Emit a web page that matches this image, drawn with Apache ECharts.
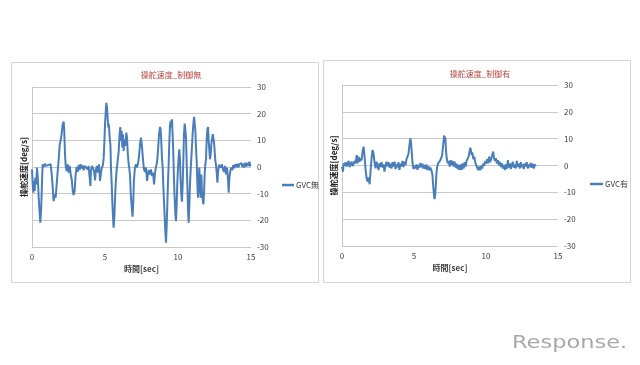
<!DOCTYPE html>
<html>
<head>
<meta charset="utf-8">
<script src="https://cdn.jsdelivr.net/npm/echarts@6/dist/echarts.min.js"></script>
<style>html,body{margin:0;padding:0;background:#fff;}#c{width:640px;height:365px;}</style>
</head>
<body>
<div id="c"></div>
<script>
var titles = ['操舵速度_制御無', '操舵速度_制御有'];
var seriesNames = ['GVC無', 'GVC有'];
var xAxisName = '時間[sec]';
var yAxisName = '操舵速度[deg/s]';
var xTicks = [0, 5, 10, 15];
var yTicks = [-30, -20, -10, 0, 10, 20, 30];

var timeA = [0,0.05,0.09,0.14,0.18,0.23,0.30,0.34,0.39,0.46,0.53,0.57,0.64,0.68,0.73,0.80,0.87,0.94,1.00,1.07,1.14,1.21,1.28,1.35,1.42,1.48,1.55,1.62,1.69,1.76,1.83,1.90,1.96,2.03,2.10,2.17,2.21,2.26,2.31,2.37,2.44,2.51,2.58,2.65,2.72,2.79,2.85,2.92,2.99,3.06,3.13,3.20,3.26,3.33,3.40,3.47,3.54,3.61,3.68,3.74,3.81,3.88,3.95,4.00,4.04,4.11,4.18,4.25,4.32,4.38,4.45,4.52,4.59,4.66,4.73,4.79,4.86,4.91,4.95,5.00,5.04,5.09,5.14,5.18,5.23,5.27,5.32,5.37,5.41,5.46,5.50,5.55,5.59,5.64,5.68,5.73,5.80,5.87,5.94,6.00,6.05,6.10,6.14,6.19,6.23,6.28,6.32,6.39,6.46,6.51,6.55,6.60,6.64,6.71,6.78,6.85,6.89,6.94,6.98,7.05,7.12,7.19,7.26,7.33,7.40,7.46,7.53,7.60,7.67,7.74,7.81,7.88,7.95,8.01,8.08,8.15,8.22,8.29,8.36,8.43,8.49,8.56,8.63,8.70,8.77,8.81,8.86,8.90,8.95,8.99,9.04,9.09,9.13,9.18,9.22,9.27,9.31,9.36,9.40,9.45,9.50,9.54,9.59,9.63,9.68,9.72,9.77,9.82,9.86,9.91,9.95,10.00,10.05,10.09,10.14,10.18,10.23,10.27,10.32,10.37,10.41,10.46,10.50,10.55,10.59,10.64,10.69,10.73,10.78,10.82,10.87,10.94,11.00,11.05,11.10,11.14,11.19,11.23,11.28,11.32,11.37,11.42,11.46,11.51,11.55,11.60,11.64,11.69,11.74,11.78,11.83,11.87,11.92,11.96,12.01,12.06,12.10,12.15,12.19,12.24,12.28,12.33,12.38,12.42,12.47,12.51,12.56,12.60,12.65,12.70,12.74,12.81,12.88,12.95,13.01,13.08,13.15,13.22,13.29,13.36,13.43,13.47,13.52,13.58,13.65,13.72,13.79,13.86,13.93,14.00,14.06,14.13,14.20,14.27,14.34,14.41,14.47,14.54,14.61,14.68,14.75,14.82,14.89,14.96];
var valueA = [-0.9,-6.5,-9.6,-5.2,-9,-4,-6.5,-0.2,-3.4,-11.5,-17.8,-20.9,-14,-6.5,1,0,1.2,0.4,1,-0.2,0.8,0.1,1,-2.8,-7.8,-12.8,-10.3,-11.5,-6.5,-1.5,2.9,8.5,9.8,12.3,16,17,13.5,4.8,0.4,-1.5,1,-2.1,0.4,-2.8,-4.6,-9,-10.5,-9,-2.8,0,-1.8,0.8,-1.2,1,-0.5,0.6,-1.2,0.4,-0.2,0.8,-0.9,0.4,-4,-7.1,-1.5,0.4,1,-1.5,-5,-0.9,0.4,-2.1,1,-5.2,-1.8,-0.2,0.8,3.5,8.5,16,19.8,24.1,22.3,18.5,14.8,16,11,8.5,-0.2,-6.5,-12.8,-19,-22.8,-19,-12.8,-6.5,-0.9,2.3,6,12.3,15,9.8,13.5,7.3,12.3,6,10.4,7.9,12.9,11,6,2.3,2.9,-2.8,-11.5,-16.5,-18.6,-12.8,-5.2,-0.2,1,-0.2,1.2,4.1,8.5,11,7.9,2.9,-0.9,-1.8,-0.2,-5.2,-2.1,-1.2,-2.8,-0.9,-3.4,-2.1,-6.5,-2.1,0,1.6,6,12.3,15,14.1,9.1,3.5,-0.2,-6.5,-12.8,-19,-24,-28.4,-22.8,-14,-6.5,1,8.5,15.4,17.3,14.8,17.9,12.3,4.8,-4,-11.5,-17.8,-20.3,-14,-6.5,-0.2,4.1,6.6,2.3,-5.2,-10.3,-13,-6.5,3.5,12.3,16.3,17,11,2.3,-6.5,-16.5,-20.9,-14,-6.5,-0.9,6,12.3,16,18.8,19.1,13.5,7.3,2.3,-5.2,-11.5,-6.5,-0.2,-6.5,-11.5,-2.8,-9,-12.1,-14,-10.3,-2.1,1,2.9,9.8,14.1,15,9.8,6,2.9,4.8,8.5,10.4,12.3,11,9.1,6,2.3,1,-2.1,-5.9,-2.1,0.8,1,-0.2,1,-0.9,-1.8,0.4,-2.8,-0.2,-5.2,-9.6,-4,-1.5,-0.2,-1.2,0.8,-0.5,1,0,1.2,-0.2,1,0.4,1.5,0,1.2,-0.2,1.6,0.2,1.5,0.4,2,0.2];

var timeB = [0.00,0.07,0.12,0.18,0.25,0.32,0.39,0.46,0.53,0.60,0.67,0.74,0.81,0.88,0.95,1.02,1.08,1.15,1.22,1.29,1.36,1.43,1.50,1.57,1.64,1.71,1.78,1.85,1.92,1.98,2.05,2.12,2.19,2.26,2.33,2.40,2.47,2.54,2.61,2.68,2.75,2.82,2.88,2.95,3.02,3.09,3.16,3.23,3.30,3.37,3.44,3.51,3.58,3.65,3.72,3.78,3.85,3.92,3.99,4.06,4.13,4.20,4.27,4.34,4.41,4.48,4.55,4.62,4.66,4.71,4.75,4.80,4.85,4.89,4.96,5.03,5.10,5.17,5.24,5.31,5.38,5.45,5.52,5.59,5.65,5.72,5.79,5.86,5.93,6.00,6.07,6.14,6.21,6.28,6.32,6.37,6.42,6.46,6.51,6.55,6.60,6.67,6.74,6.81,6.88,6.95,6.99,7.04,7.09,7.13,7.18,7.22,7.27,7.34,7.41,7.48,7.55,7.62,7.69,7.75,7.82,7.89,7.96,8.03,8.10,8.17,8.24,8.31,8.38,8.45,8.52,8.59,8.65,8.72,8.79,8.86,8.91,8.95,9.00,9.05,9.12,9.19,9.25,9.32,9.39,9.46,9.53,9.60,9.67,9.74,9.81,9.88,9.95,10.02,10.09,10.15,10.22,10.29,10.36,10.43,10.50,10.55,10.62,10.69,10.75,10.82,10.89,10.96,11.03,11.10,11.17,11.24,11.31,11.38,11.45,11.52,11.59,11.65,11.72,11.79,11.86,11.93,12.00,12.07,12.14,12.21,12.28,12.35,12.42,12.49,12.55,12.62,12.69,12.76,12.83,12.90,12.97,13.04,13.11,13.18,13.25,13.32,13.39,13.45];
var valueB = [-0.4,-2.3,0.8,-0.1,1.2,-0.4,0.7,1.7,-0.6,0.6,1.4,-0.2,0.4,1.7,0.8,3.9,0.8,3.3,1.4,2.7,1.9,5.2,7.0,3.3,-1.7,-4.8,-6.0,-4.5,-7.0,-2.3,2.4,5.8,4.5,1.2,-1.1,1.4,-0.1,-1.7,0.9,-0.6,1.2,-0.8,0.4,-2.3,-0.1,1.4,-0.3,1.2,-0.8,0.7,-1.1,1.2,-0.4,1.4,-1.3,0.4,-0.6,1.2,-1.6,0.7,-0.3,1.7,-0.6,1.4,0.2,2.4,3.3,4.5,6.4,8.9,10.1,8.3,4.5,1.4,-1.3,-0.1,-1.1,0.4,-1.6,0.2,-0.8,0.9,-0.6,0.7,-1.1,0.2,-1.3,0.4,-1.7,-0.3,-1.8,-0.8,-1.7,-3.5,-6.6,-9.8,-12.5,-11.6,-7.9,-3.5,-0.8,0.8,0.4,1.7,2.4,3.7,5.8,8.3,11.1,11.4,10.1,5.8,2.7,0.8,1.7,-0.4,2.0,0.2,1.7,-0.4,1.4,-0.8,0.7,-1.3,0.2,-1.7,0.4,-1.6,0.8,-1.1,1.2,-0.4,1.7,2.4,3.3,5.2,6.6,5.8,3.9,4.9,2.4,3.3,1.2,0.2,-0.8,-1.7,-0.4,-1.8,-0.1,-1.1,0.8,-0.1,1.7,0.7,2.4,0.8,3.3,1.2,2.4,3.9,5.2,2.9,1.7,2.7,0.8,2.0,0.2,1.4,-0.6,0.9,-1.1,0.2,-1.7,0.4,-1.3,2.0,-0.8,0.8,-1.3,0.2,1.4,-0.8,0.4,-1.1,1.7,-0.4,0.7,-1.1,1.2,-0.6,0.4,-1.3,0.8,-0.4,1.2,-1.1,0.4,-0.6,0.9,-0.8,0.7,-1.1,0.4,-0.3];

function pairs(t, v) { return t.map(function (x, i) { return [x, v[i]]; }); }

var FONT = 'Noto Sans CJK JP';
var gridC = '#c9c9c9';
var txt = '#404040';
var lineC = '#4a7ebb';

var grids = [
  { left: 32, top: 87, width: 219, height: 160 },
  { left: 342, top: 85, width: 216, height: 161 }
];

function xAx(i) {
  return {
    type: 'value', gridIndex: i, min: xTicks[0], max: xTicks[xTicks.length - 1], interval: 5,
    axisLine: { show: false }, axisTick: { show: false }, splitLine: { show: false },
    axisLabel: { color: txt, fontSize: 8, fontFamily: FONT, margin: 6 },
    name: xAxisName, nameLocation: 'middle', nameGap: 18,
    nameTextStyle: { color: txt, fontSize: 8, fontWeight: 'bold', fontFamily: FONT }
  };
}
function yAxRight(i) {
  return {
    type: 'value', gridIndex: i, position: 'right', min: yTicks[0], max: yTicks[yTicks.length - 1], interval: 10,
    axisLine: { show: false }, axisTick: { show: false },
    splitLine: { show: true, lineStyle: { color: gridC, width: 1 } },
    axisLabel: { color: txt, fontSize: 8, fontFamily: FONT, margin: 6, align: 'left' }
  };
}
function yAxLeft(i) {
  return {
    type: 'value', gridIndex: i, position: 'left', min: yTicks[0], max: yTicks[yTicks.length - 1], interval: 10,
    axisLine: { show: true, lineStyle: { color: gridC, width: 1 } }, axisTick: { show: false },
    splitLine: { show: false }, axisLabel: { show: false },
    name: yAxisName, nameLocation: 'middle', nameGap: 4, nameRotate: 90,
    nameTextStyle: { color: '#222', fontSize: 8, fontWeight: 'bold', fontFamily: FONT }
  };
}

var chart = echarts.init(document.getElementById('c'), null, { renderer: 'canvas' });
chart.setOption({
  backgroundColor: '#ffffff',
  animation: false,
  title: [
    { text: titles[0], left: 166, top: 66, textAlign: 'center',
      textStyle: { color: '#b8433d', fontSize: 8, fontWeight: 'normal', fontFamily: FONT } },
    { text: titles[1], left: 475, top: 65, textAlign: 'center',
      textStyle: { color: '#b8433d', fontSize: 8, fontWeight: 'normal', fontFamily: FONT } }
  ],
  legend: [
    { data: [seriesNames[0]], left: 277, top: 176, icon: 'rect', itemWidth: 12, itemHeight: 2.5, itemGap: 2,
      textStyle: { color: txt, fontSize: 8, fontFamily: FONT, padding: [0, 0, 0, -3] } },
    { data: [seriesNames[1]], left: 585, top: 175, icon: 'rect', itemWidth: 13, itemHeight: 2.5, itemGap: 2,
      textStyle: { color: txt, fontSize: 8, fontFamily: FONT, padding: [0, 0, 0, -3] } }
  ],
  grid: grids,
  xAxis: [xAx(0), xAx(1)],
  yAxis: [yAxRight(0), yAxLeft(0), yAxRight(1), yAxLeft(1)],
  series: [
    { name: seriesNames[0], type: 'line', xAxisIndex: 0, yAxisIndex: 0, data: pairs(timeA, valueA),
      showSymbol: false, symbol: 'none', lineStyle: { color: lineC, width: 2 }, itemStyle: { color: lineC } },
    { name: seriesNames[1], type: 'line', xAxisIndex: 1, yAxisIndex: 2, data: pairs(timeB, valueB),
      showSymbol: false, symbol: 'none', lineStyle: { color: lineC, width: 2 }, itemStyle: { color: lineC } }
  ],
  graphic: [
    { type: 'rect', shape: { x: 11.5, y: 62.5, width: 307, height: 220 }, style: { fill: 'none', stroke: '#d4d4d4', lineWidth: 1 }, z: -1 },
    { type: 'rect', shape: { x: 323.5, y: 60.5, width: 307, height: 222 }, style: { fill: 'none', stroke: '#d4d4d4', lineWidth: 1 }, z: -1 },
    { type: 'text', x: 512, y: 334, scaleX: 1.25, style: { text: 'Response.', fill: '#a8a8a8', fontSize: 18, fontFamily: 'DejaVu Sans', fontWeight: 'normal' } }
  ]
});
</script>
</body>
</html>
